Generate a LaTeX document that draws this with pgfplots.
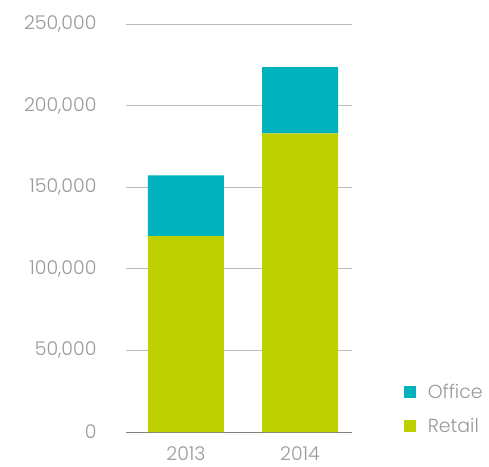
\documentclass[border=0pt]{standalone}
\usepackage{pgfplots}
\pgfplotsset{compat=1.18}
\usepackage{fontspec}
\setmainfont{Poppins}[UprightFont=* Light]
\definecolor{office}{HTML}{00B2BD}
\definecolor{retail}{HTML}{BDD000}
\definecolor{labgray}{HTML}{999999}
\definecolor{gridgray}{HTML}{BBBBBB}
\begin{document}
\begin{tikzpicture}
  \begin{axis}[
    scale only axis,
    width=226bp, height=408bp,
    ybar stacked,
    bar width=76bp,
    xmin=-0.526, xmax=1.456,
    ymin=0, ymax=250000,
    xtick=data,
    xticklabels={2013,2014},
    ytick={0,50000,100000,150000,200000,250000},
    yticklabels={{0},{50,000},{100,000},{150,000},{200,000},{250,000}},
    scaled y ticks=false,
    ymajorgrids,
    grid style={gridgray, line width=0.8pt},
    axis x line*=bottom,
    axis y line*=left,
    y axis line style={draw=none},
    x axis line style={draw=gray, line width=1pt, -},
    major tick length=0pt,
    tick label style={font=\fontsize{19}{21}\selectfont, text=labgray},
    yticklabel style={xshift=-26bp},
    xticklabel style={yshift=-11bp},
    legend style={draw=none, at={(1.215,-0.015)}, anchor=south west,
      font=\fontsize{19}{21}\selectfont, text=labgray,
      legend cell align=left, row sep=14bp,
      nodes={inner xsep=12bp}},
    reverse legend,
    legend image code/.code={\fill[#1] (0bp,-6bp) rectangle (12bp,6bp);},
    clip=false,
  ]
    \addplot[fill=retail, draw=none] coordinates {(0,120000) (1,183000)};
    \addplot[fill=office, draw=none] coordinates {(0,37300) (1,40500)};
    \legend{Retail, Office}
  \end{axis}
  \pgfresetboundingbox
  \path (-126bp,-35bp) rectangle (363bp,432bp);
\end{tikzpicture}
\end{document}
